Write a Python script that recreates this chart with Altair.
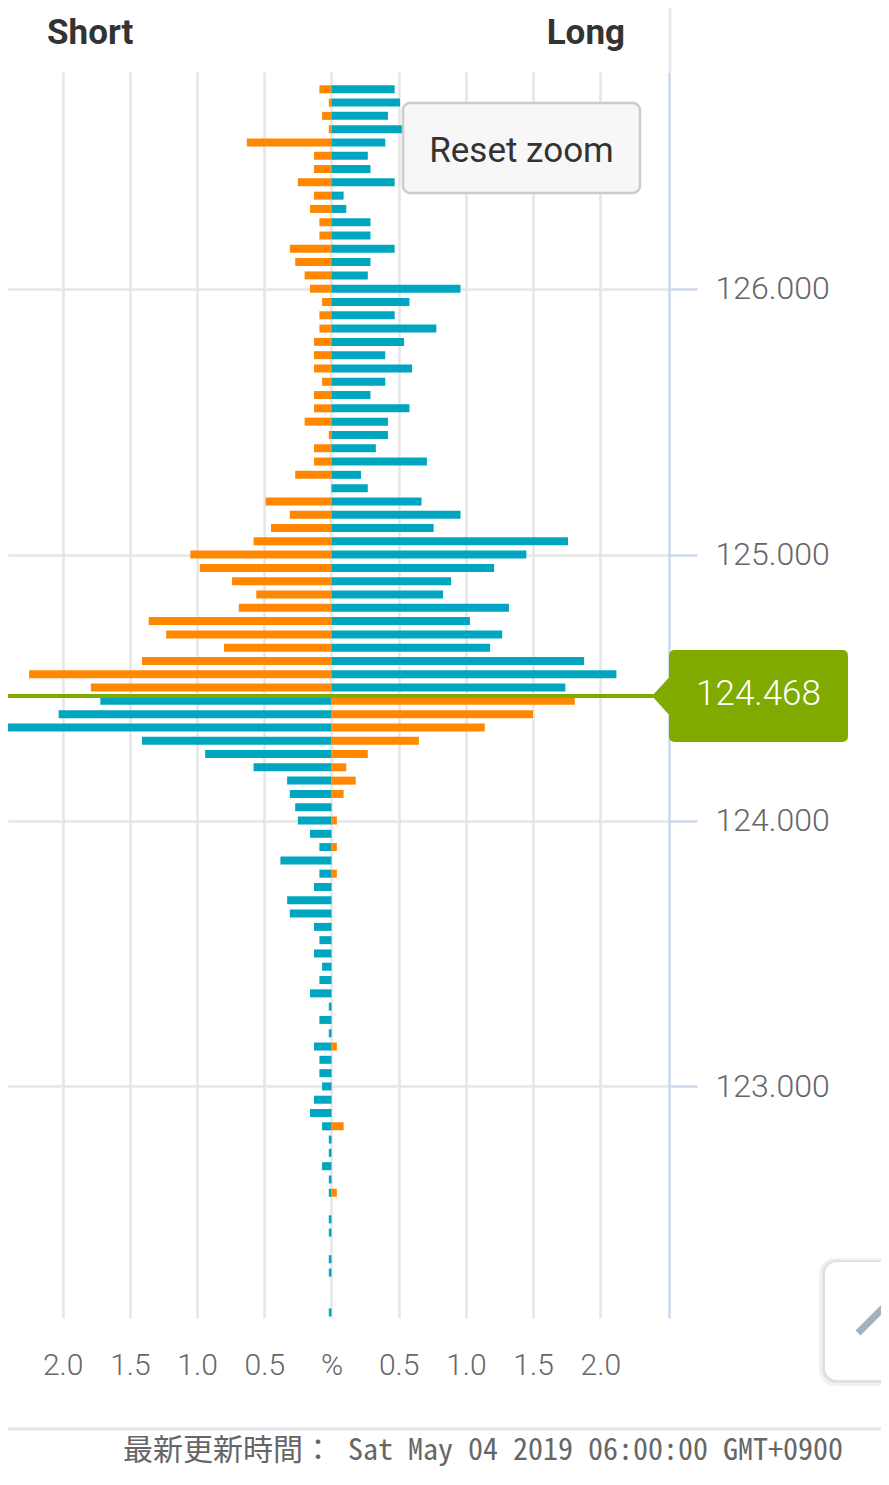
import altair as alt
import pandas as pd

# ---------------- data ----------------
prices = [
    126.75, 126.70, 126.65, 126.60, 126.55, 126.50, 126.45, 126.40, 126.35, 126.30,
    126.25, 126.20, 126.15, 126.10, 126.05, 126.00,
    125.95, 125.90, 125.85, 125.80, 125.75, 125.70, 125.65, 125.60, 125.55, 125.50,
    125.45, 125.40, 125.35, 125.30, 125.25, 125.20, 125.15, 125.10, 125.05, 125.00,
    124.95, 124.90, 124.85, 124.80, 124.75, 124.70, 124.65, 124.60, 124.55, 124.50,
    124.45, 124.40, 124.35, 124.30, 124.25, 124.20, 124.15, 124.10, 124.05, 124.00,
    123.95, 123.90, 123.85, 123.80, 123.75, 123.70, 123.65, 123.60, 123.55, 123.50,
    123.45, 123.40, 123.35, 123.30, 123.25, 123.20, 123.15, 123.10, 123.05, 123.00,
    122.95, 122.90, 122.85, 122.80, 122.75, 122.70, 122.65, 122.60, 122.55, 122.50,
    122.45, 122.40, 122.35, 122.30, 122.25, 122.20, 122.15,
]

short_side = [
    0.09, 0.02, 0.07, 0.02, 0.63, 0.13, 0.13, 0.25, 0.13, 0.16,
    0.09, 0.09, 0.31, 0.27, 0.20, 0.16,
    0.07, 0.09, 0.09, 0.13, 0.13, 0.13, 0.07, 0.13, 0.13, 0.20,
    0.02, 0.13, 0.13, 0.27, 0.00, 0.49, 0.31, 0.45, 0.58, 1.05,
    0.98, 0.74, 0.56, 0.69, 1.36, 1.23, 0.80, 1.41, 2.25, 1.79,
    1.72, 2.03, 2.60, 1.41, 0.94, 0.58, 0.33, 0.31, 0.27, 0.25,
    0.16, 0.09, 0.38, 0.09, 0.13, 0.33, 0.31, 0.13, 0.09, 0.13,
    0.07, 0.09, 0.16, 0.02, 0.09, 0.02, 0.13, 0.09, 0.09, 0.07,
    0.13, 0.16, 0.07, 0.02, 0.02, 0.07, 0.02, 0.02, 0.00, 0.02,
    0.02, 0.00, 0.02, 0.02, 0.00, 0.00, 0.02,
]

long_side = [
    0.47, 0.51, 0.42, 0.54, 0.40, 0.27, 0.29, 0.47, 0.09, 0.11,
    0.29, 0.29, 0.47, 0.29, 0.27, 0.96,
    0.58, 0.47, 0.78, 0.54, 0.40, 0.60, 0.40, 0.29, 0.58, 0.42,
    0.42, 0.33, 0.71, 0.22, 0.27, 0.67, 0.96, 0.76, 1.76, 1.45,
    1.21, 0.89, 0.83, 1.32, 1.03, 1.27, 1.18, 1.88, 2.12, 1.74,
    1.81, 1.50, 1.14, 0.65, 0.27, 0.11, 0.18, 0.09, 0.00, 0.04,
    0.00, 0.04, 0.00, 0.04, 0.00, 0.00, 0.00, 0.00, 0.00, 0.00,
    0.00, 0.00, 0.00, 0.00, 0.00, 0.00, 0.04, 0.00, 0.00, 0.00,
    0.00, 0.00, 0.09, 0.00, 0.00, 0.00, 0.00, 0.04, 0.00, 0.00,
    0.00, 0.00, 0.00, 0.00, 0.00, 0.00, 0.00,
]

current_price = 124.468
current_label = "124.468"
x_ticks = [-2.0, -1.5, -1.0, -0.5, 0.0, 0.5, 1.0, 1.5, 2.0]
y_ticks = [123, 124, 125, 126]
footer = "最新更新時間： Sat May 04 2019 06:00:00 GMT+0900"

ORANGE = "#ff8800"
TEAL = "#00a6bf"
GREEN = "#80aa00"

# ---------------- tables ----------------
rows = []
for p, s, l in zip(prices, short_side, long_side):
    above = p > current_price
    if s > 0:
        rows.append({"price": p, "value": -s, "status": "profit" if above else "loss"})
    if l > 0:
        rows.append({"price": p, "value": l, "status": "loss" if above else "profit"})
bars_df = pd.DataFrame(rows)
price_df = pd.DataFrame({"price": [current_price], "label": [current_label]})
one = pd.DataFrame({"k": [0]})

W, H = 661, 1246

x_scale = alt.Scale(domain=[-2.407, 2.5112], nice=False, zero=False, padding=0)
y_scale = alt.Scale(domain=[122.129, 126.815], nice=False, zero=False, padding=0)

x_axis = alt.Axis(
    values=x_ticks,
    labelExpr="datum.value == 0 ? '%' : format(abs(datum.value), '.1f')",
    grid=True, gridColor="#e6e6e6", gridWidth=2.5,
    domain=False, ticks=False, tickSize=0,
    labelPadding=32, labelFont="Roboto", labelFontSize=30, labelFontWeight=300,
    labelColor="#666666", title=None, labelFlush=False, labelOverlap=False,
)
y_axis = alt.Axis(
    orient="right", values=y_ticks, format=".3f",
    grid=True, gridColor="#e6e6e6", gridWidth=2.5,
    domain=True, domainColor="#ccd6eb", domainWidth=2.5,
    ticks=True, tickColor="#ccd6eb", tickWidth=2.5, tickSize=28,
    labelPadding=18, labelFont="Roboto", labelFontSize=32, labelFontWeight=300,
    labelColor="#666666", title=None, labelFlush=False, labelOverlap=False,
)

bars = alt.Chart(bars_df).mark_bar(orient="horizontal", size=8, clip=True).encode(
    x=alt.X("value:Q", scale=x_scale, axis=x_axis, stack=None),
    y=alt.Y("price:Q", scale=y_scale, axis=y_axis),
    color=alt.Color("status:N", scale=alt.Scale(domain=["profit", "loss"], range=[ORANGE, TEAL]), legend=None),
)

price_line = alt.Chart(price_df).mark_rule(color=GREEN, strokeWidth=4).encode(
    y=alt.Y("price:Q", scale=y_scale, axis=y_axis),
    x=alt.value(0),
    x2=alt.value(W),
)

LABEL_PATH = (
    "M -1 0 L -0.8265 -0.19 L -0.8265 -0.408 Q -0.8265 -0.469 -0.7653 -0.469 "
    "L 0.939 -0.469 Q 1 -0.469 1 -0.408 L 1 0.408 Q 1 0.469 0.939 0.469 "
    "L -0.7653 0.469 Q -0.8265 0.469 -0.8265 0.408 L -0.8265 0.19 Z"
)
price_box = alt.Chart(price_df).mark_point(
    shape=LABEL_PATH, size=196 * 196, filled=True, color=GREEN, opacity=1, strokeWidth=0
).encode(
    x=alt.value(742),
    y=alt.Y("price:Q", scale=y_scale, axis=y_axis),
)
price_text = alt.Chart(price_df).mark_text(
    font="Roboto", fontSize=35, fontWeight=300, color="white", align="center",
    baseline="alphabetic", dy=9,
).encode(
    x=alt.value(750.5),
    y=alt.Y("price:Q", scale=y_scale, axis=y_axis),
    text="label:N",
)

top_line = alt.Chart(one).mark_rule(color="#e6e6e6", strokeWidth=2.5).encode(
    x=alt.value(662), y=alt.value(-72), y2=alt.value(0)
)
short_t = alt.Chart(one).mark_text(
    font="Roboto", fontSize=35, fontWeight="bold", color="#333333", align="left", baseline="alphabetic"
).encode(x=alt.value(39), y=alt.value(-28), text=alt.value("Short"))
long_t = alt.Chart(one).mark_text(
    font="Roboto", fontSize=35, fontWeight="bold", color="#333333", align="right", baseline="alphabetic"
).encode(x=alt.value(617), y=alt.value(-28), text=alt.value("Long"))

reset_box = alt.Chart(one).mark_rect(
    fill="#f7f7f7", stroke="#cccccc", strokeWidth=2.5, cornerRadius=7
).encode(x=alt.value(395), x2=alt.value(632), y=alt.value(31), y2=alt.value(121))
reset_text = alt.Chart(one).mark_text(
    font="Roboto", fontSize=35, color="#333333", align="center", baseline="alphabetic"
).encode(x=alt.value(513.5), y=alt.value(90), text=alt.value("Reset zoom"))

footer_line = alt.Chart(one).mark_rule(color="#e3e6ea", strokeWidth=3).encode(
    x=alt.value(-8), x2=alt.value(890), y=alt.value(1357)
)
footer_text = alt.Chart(one).mark_text(
    font="Noto Sans Mono CJK JP, Noto Sans CJK JP, DejaVu Sans Mono", fontSize=30,
    color="#666666", align="left", baseline="alphabetic"
).encode(x=alt.value(115), y=alt.value(1388), text=alt.value(footer))

shadow1 = alt.Chart(one).mark_rect(fill="#000000", opacity=0.05, cornerRadius=16).encode(
    x=alt.value(811), x2=alt.value(900), y=alt.value(1186), y2=alt.value(1314)
)
shadow2 = alt.Chart(one).mark_rect(fill="#000000", opacity=0.07, cornerRadius=14).encode(
    x=alt.value(814), x2=alt.value(900), y=alt.value(1188), y2=alt.value(1311)
)
top_btn = alt.Chart(one).mark_rect(fill="#ffffff", cornerRadius=12).encode(
    x=alt.value(817), x2=alt.value(900), y=alt.value(1190), y2=alt.value(1308)
)
chev1 = alt.Chart(one).mark_rule(color="#a2b1bc", strokeWidth=7).encode(
    x=alt.value(850), y=alt.value(1261), x2=alt.value(875), y2=alt.value(1236)
)
chev2 = alt.Chart(one).mark_rule(color="#a2b1bc", strokeWidth=7).encode(
    x=alt.value(875), y=alt.value(1236), x2=alt.value(900), y2=alt.value(1261)
)

chart = alt.layer(
    bars, price_line, price_box, price_text,
    top_line, short_t, long_t, reset_box, reset_text,
    footer_line, footer_text,
    shadow1, shadow2, top_btn, chev1, chev2,
).properties(
    width=W, height=H,
    autosize=alt.AutoSizeParams(type="none"),
    padding={"left": 0, "top": 64, "right": 212, "bottom": 153},
    background="white",
).configure_view(strokeWidth=0)

chart.save("out.html", embed_options={"renderer": "svg", "actions": False})
